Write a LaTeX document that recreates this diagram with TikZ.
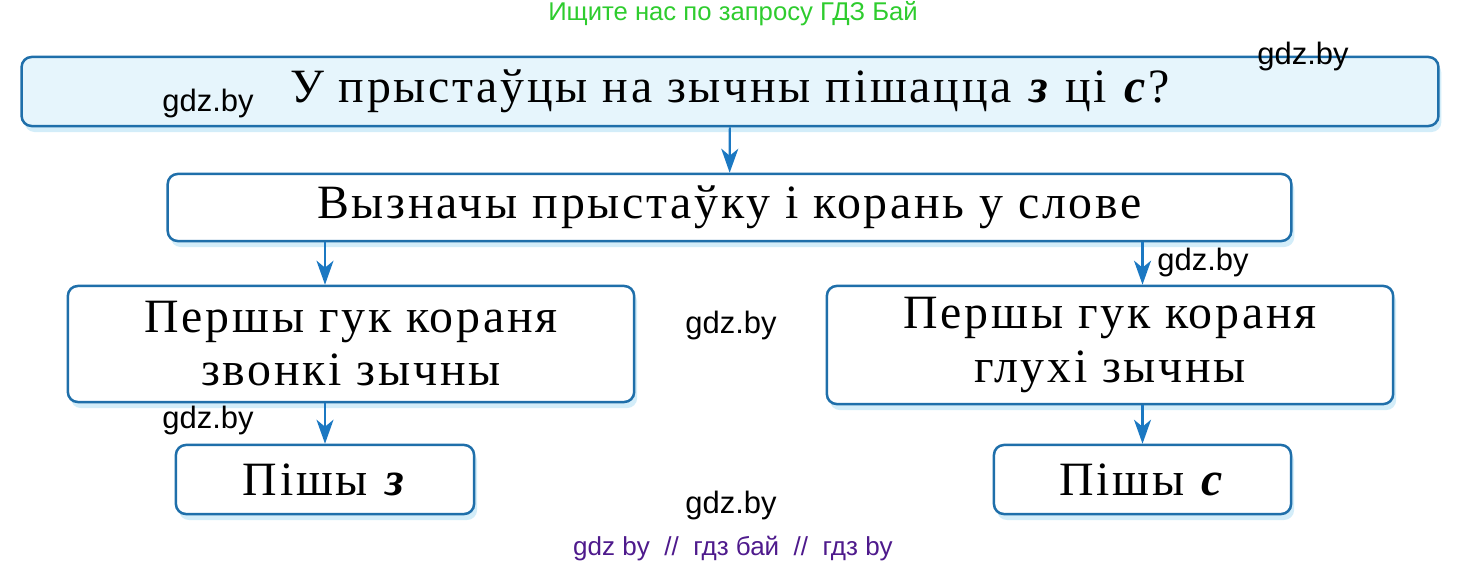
\documentclass[tikz,border=0pt]{standalone}
\usepackage{fontspec}
\setmainfont[LetterSpace=5.8]{Liberation Serif}
\newfontfamily\wmfont{Liberation Sans}
\usetikzlibrary{arrows.meta,shadows}
\definecolor{boxblue}{HTML}{1F6FAA}
\definecolor{arrblue}{HTML}{1B78C2}
\definecolor{topfill}{HTML}{E6F5FC}
\definecolor{glow}{HTML}{C8E8F7}
\definecolor{adgreen}{HTML}{2ECC2E}
\definecolor{adpurple}{HTML}{4E1A8C}
\tikzset{
  stepbox/.style={draw=boxblue, line width=0.025cm, rounded corners=0.1cm, fill=white,
    drop shadow={shadow xshift=0.03cm, shadow yshift=-0.06cm, fill=glow, opacity=0.8},
    align=center, font=\fontsize{13.6}{15.1}\selectfont},
  arr/.style={draw=arrblue, line width=0.022cm, -{Stealth[length=0.24cm, width=0.17cm, inset=0.07cm]}},
  wm/.style={font=\wmfont\fontsize{8.8}{10}\selectfont},
}
\begin{document}
\begin{tikzpicture}[x=0.01cm, y=-0.01cm]
        \useasboundingbox (0,0) rectangle (1470,567);
        \node[adgreen, font=\wmfont\fontsize{7.3}{8}\selectfont] (ad) at (733,14) {Ищите нас по запросу ГДЗ Бай};

        \node[stepbox, fill=topfill, minimum width=14.16cm, minimum height=0.69cm] (top) at (730,91.5)
            {У прыстаўцы на зычны пішацца \textbf{\textit{з}} ці \textbf{\textit{с}}?};
        \node[stepbox, minimum width=11.23cm, minimum height=0.67cm] (find) at (729.5,207.5)
            {Вызначы прыстаўку і корань у слове};
        \node[stepbox, minimum width=5.66cm, minimum height=1.16cm] (voiced) at (351,344)
            {Першы гук кораня\\звонкі зычны};
        \node[stepbox, minimum width=5.66cm, minimum height=1.16cm] (voiceless) at (1110,345)
            {Першы гук кораня\\глухі зычны};
        \node[stepbox, minimum width=2.98cm, minimum height=0.69cm] (writez) at (325,479.5)
            {Пішы \textbf{\textit{з}}};
        \node[stepbox, minimum width=2.97cm, minimum height=0.69cm] (writes) at (1142.5,479.5)
            {Пішы \textbf{\textit{с}}};

        \draw[arr] (top) -- (find);
        \draw[arr] (find.south -| writez) -- (voiced.north -| writez);
        \draw[arr] (find.south -| writes) -- (voiceless.north -| writes);
        \draw[arr] (voiced.south -| writez) -- (writez);
        \draw[arr] (voiceless.south -| writes) -- (writes);
        %%%%%%%%%%

        \node[wm] (wm1) at (208,104) {gdz.by};
        \node[wm] (wm2) at (1303,57) {gdz.by};
        \node[wm] (wm3) at (1203,262) {gdz.by};
        \node[wm] (wm4) at (731,325) {gdz.by};
        \node[wm] (wm5) at (208,420) {gdz.by};
        \node[wm] (wm6) at (731,505) {gdz.by};
        \node[adpurple, font=\wmfont\fontsize{7.4}{8}\selectfont] (foot) at (733,549)
            {gdz by \ // \ гдз бай \ // \ гдз by};
    \end{tikzpicture}
\end{document}
